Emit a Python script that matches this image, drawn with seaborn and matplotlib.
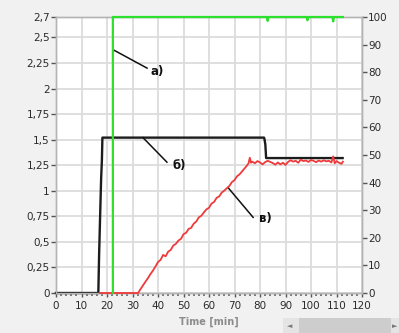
import matplotlib
matplotlib.use("Agg")
import matplotlib.pyplot as plt
from matplotlib.ticker import MultipleLocator, FixedLocator
from matplotlib.patches import Rectangle
import seaborn as sns

# ---- data ----
time_black = [0, 16.6, 16.9, 17.3, 17.7, 18.0, 18.2, 81.6, 81.8, 82.1, 82.4, 112.4]
level_black = [0, 0, 0.37, 0.75, 1.12, 1.30, 1.52, 1.52, 1.50, 1.45, 1.32, 1.32]

time_green = [22.3, 22.3, 82.7, 83.0, 83.3, 98.3, 98.6, 98.9, 108.4, 108.7, 109.0, 112.5]
pct_green = [0, 100, 100, 98.6, 100, 100, 98.8, 100, 100, 98.4, 100, 100]

time_red = [17.2, 32.2, 33, 34, 35, 36, 37, 38, 39, 40, 41, 42, 43, 44, 45, 46, 47, 48, 49,
            50, 51, 52, 53, 54, 55, 56, 57, 58, 59, 60, 61, 62, 63, 64, 65, 66, 67, 68,
            69, 70, 71, 72, 73, 74, 75, 75.5, 76, 76.5, 77, 78, 79, 80, 81, 82, 83, 84,
            85, 86, 87, 88, 89, 90, 91, 92, 93, 94, 95, 96, 97, 98, 99, 100, 101, 102,
            103, 104, 105, 106, 107, 108, 108.7, 109.3, 110, 111, 112, 112.5]
pct_red = [0, 0, 1.2, 2.6, 4.0, 5.3, 6.8, 8.1, 9.6, 11.2, 12.0, 13.8, 13.3, 15.0, 15.6,
           17.2, 17.8, 19.0, 19.6, 21.3, 21.8, 23.2, 23.6, 25.1, 25.9, 27.4, 28.0, 29.2,
           30.3, 30.9, 32.4, 33.0, 34.5, 35.0, 36.4, 37.1, 38.0, 38.8, 40.2, 40.9, 42.3,
           43.0, 44.1, 45.2, 46.3, 47.0, 49.0, 47.2, 47.6, 47.0, 47.8, 47.3, 46.6, 47.4,
           47.9, 47.5, 47.1, 46.5, 47.3, 46.6, 47.2, 46.4, 47.5, 48.1, 47.6, 47.9, 47.2,
           48.3, 47.8, 48.0, 47.5, 48.2, 47.9, 47.4, 48.0, 47.6, 48.1, 47.7, 47.9, 47.3,
           49.5, 47.0, 47.8, 47.2, 46.8, 47.6]

x_ticks = list(range(0, 121, 10))
left_ticks = [0, 0.25, 0.5, 0.75, 1, 1.25, 1.5, 1.75, 2, 2.25, 2.5, 2.7]
left_labels = ["0", "0,25", "0,5", "0,75", "1", "1,25", "1,5", "1,75", "2", "2,25", "2,5", "2,7"]
right_ticks = list(range(0, 101, 10))
right_labels = [str(v) for v in right_ticks]

notes = ["а)", "б)", "в)"]
note_line_start = [(22.4, 2.38), (34.1, 1.52), (67.5, 1.03)]
note_line_end = [(35.7, 2.20), (43.5, 1.28), (77.3, 0.74)]
note_text_pos = [(37.0, 2.17), (45.6, 1.25), (79.5, 0.73)]

# ---- figure ----
fig = plt.figure(figsize=(3.99, 3.33), dpi=100, facecolor="#f1f1f1")
ax = fig.add_axes([56 / 399, 40 / 333, 306 / 399, 276 / 333])
ax.set_facecolor("white")
ax2 = ax.twinx()

sns.lineplot(x=time_black, y=level_black, ax=ax, color="#1c1c1c", linewidth=1.7,
             estimator=None, sort=False, zorder=3)
sns.lineplot(x=time_red, y=pct_red, ax=ax2, color="#ee3a3a", linewidth=1.3,
             estimator=None, sort=False, zorder=3)
sns.lineplot(x=time_green, y=pct_green, ax=ax2, color="#2ee02e", linewidth=1.6,
             estimator=None, sort=False, zorder=4)
for ln in ax.lines + ax2.lines:
    ln.set_clip_on(False)

ax.set_xlim(0, 120)
ax.set_ylim(0, 2.7)
ax2.set_ylim(0, 100)

ax.xaxis.set_major_locator(FixedLocator(x_ticks))
ax.xaxis.set_minor_locator(MultipleLocator(2))
ax.set_xticklabels([str(v) for v in x_ticks])
ax.set_yticks(left_ticks)
ax.set_yticklabels(left_labels)
ax2.set_yticks(right_ticks)
ax2.set_yticklabels(right_labels)

ax.grid(True, which="major", color="#dcdcdc", linewidth=1.3)
ax.set_axisbelow(True)
ax2.grid(False)

tick_kw = dict(labelsize=7.5, labelcolor="#2a2a2a", color="#555555")
ax.tick_params(axis="x", which="major", direction="out", length=3, width=1, pad=3, **tick_kw)
ax.tick_params(axis="x", which="minor", direction="out", length=2, width=1.2, color="#666666")
ax.tick_params(axis="y", direction="out", length=3.5, width=1, pad=1, **tick_kw)
ax2.tick_params(axis="y", direction="out", length=3.5, width=1, pad=1, **tick_kw)

for a in (ax, ax2):
    for s in a.spines.values():
        s.set_color("#b4b4b4")
        s.set_linewidth(1.0)

ax.set_xlabel("Time [min]", color="#8c8c8c", fontsize=7, fontweight="bold", labelpad=4)
ax.set_ylabel("")
ax2.set_ylabel("")

for label, p0, p1, pt in zip(notes, note_line_start, note_line_end, note_text_pos):
    ax.plot([p0[0], p1[0]], [p0[1], p1[1]], color="#111111", linewidth=1.1, zorder=6)
    ax.text(pt[0], pt[1], label, fontsize=8.5, fontweight="bold", color="#111111",
            va="center", ha="left", zorder=6)

# scrollbar decoration at bottom right
fig.add_artist(Rectangle((283 / 399, 0), 116 / 399, 15 / 333, transform=fig.transFigure,
                         facecolor="#e4e4e4", edgecolor="none"))
fig.add_artist(Rectangle((299 / 399, 0), 92 / 399, 15 / 333, transform=fig.transFigure,
                         facecolor="#cdcdcd", edgecolor="none"))
fig.text(290 / 399, 7 / 333, "◄", fontsize=5, color="#777777", ha="center", va="center")
fig.text(395 / 399, 7 / 333, "►", fontsize=5, color="#777777", ha="center", va="center")

fig.savefig("out.png", dpi=100, facecolor=fig.get_facecolor())
